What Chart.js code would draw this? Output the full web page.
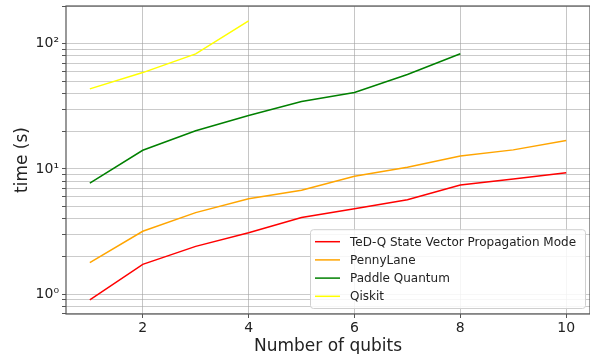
<!DOCTYPE html>
<html>
<head>
<meta charset="utf-8">
<script src="https://cdn.jsdelivr.net/npm/chart.js@4/dist/chart.umd.min.js"></script>
<style>
html, body { margin: 0; padding: 0; background: #fff; }
#wrap { width: 590px; height: 354px; }
</style>
</head>
<body>
<div id="wrap"><canvas id="chart" width="590" height="354"></canvas></div>
<script>
const qubits = [1, 2, 3, 4, 5, 6, 7, 8, 9, 10]
const tedq = [0.9, 1.73, 2.41, 3.1, 4.1, 4.82, 5.68, 7.44, 8.33, 9.33]
const pennylane = [1.79, 3.18, 4.48, 5.79, 6.75, 8.76, 10.3, 12.7, 14.2, 16.9]
const paddle = [7.7, 14.1, 20.2, 26.7, 34.5, 40.8, 56.8, 83.2]
const qiskit = [43.6, 58.8, 83, 152]

const seriesNames = ["TeD-Q State Vector Propagation Mode", "PennyLane", "Paddle Quantum", "Qiskit"]
const seriesColors = ["#ff0000", "#ffa500", "#008000", "#ffff00"]

const xTicks = [2, 4, 6, 8, 10]
const yTicks = [0.7, 0.8, 0.9, 1, 2, 3, 4, 5, 6, 7, 8, 9, 10, 20, 30, 40, 50, 60, 70, 80, 90, 100, 200]
const yLabels = { 1: "10⁰", 10: "10¹", 100: "10²" }

const font = "'DejaVu Sans', sans-serif"

function toPoints(values) {
    return values.map((v, i) => ({ x: qubits[i], y: v }))
}

const datasets = [tedq, pennylane, paddle, qiskit].map((values, i) => ({
    label: seriesNames[i],
    data: toPoints(values),
    borderColor: seriesColors[i],
    backgroundColor: seriesColors[i],
    borderWidth: 1.5,
    pointRadius: 0,
    tension: 0
}))

// frame around the plot area, like matplotlib spines
const framePlugin = {
    id: "frame",
    afterDatasetsDraw(chart) {
        const { ctx, chartArea: a } = chart
        ctx.save()
        ctx.strokeStyle = "#555"
        ctx.lineWidth = 1.2
        ctx.strokeRect(a.left, a.top, a.right - a.left, a.bottom - a.top)
        ctx.restore()
    }
}

// legend box in the lower right of the plot
const legendPlugin = {
    id: "boxLegend",
    afterDraw(chart) {
        const { ctx, chartArea: a } = chart
        const w = 275, rowH = 18.2
        const h = seriesNames.length * rowH + 6
        const x0 = a.right - w - 5, y0 = a.bottom - h - 6
        ctx.save()
        ctx.fillStyle = "rgba(255,255,255,0.85)"
        ctx.strokeStyle = "#d0d0d0"
        ctx.lineWidth = 1
        ctx.beginPath()
        ctx.roundRect(x0 + 0.5, y0 + 0.5, w, h, 3)
        ctx.fill()
        ctx.stroke()
        ctx.font = "12px " + font
        ctx.textBaseline = "middle"
        seriesNames.forEach((name, i) => {
            const y = y0 + 12.5 + i * rowH
            ctx.strokeStyle = seriesColors[i]
            ctx.lineWidth = 1.5
            ctx.beginPath()
            ctx.moveTo(x0 + 5, y)
            ctx.lineTo(x0 + 30, y)
            ctx.stroke()
            ctx.fillStyle = "#222"
            ctx.fillText(name, x0 + 40, y + 1)
        })
        ctx.restore()
    }
}

new Chart(document.getElementById("chart").getContext("2d"), {
    type: "line",
    data: { datasets: datasets },
    options: {
        responsive: false,
        animation: false,
        devicePixelRatio: 1,
        layout: { padding: { top: 6, right: 0, left: 0, bottom: 0 } },
        plugins: { legend: { display: false }, tooltip: { enabled: false } },
        scales: {
            x: {
                type: "linear",
                min: 0.55,
                max: 10.45,
                afterBuildTicks: scale => { scale.ticks = xTicks.map(v => ({ value: v })) },
                afterFit: scale => { scale.height = 40 },
                grid: { color: "rgba(160,160,160,0.6)", lineWidth: 1, tickLength: 4, tickColor: "#555" },
                border: { display: false },
                ticks: { color: "#222", font: { family: font, size: 14 }, padding: 2, maxRotation: 0 },
                title: { display: true, text: "Number of qubits", color: "#222", font: { family: font, size: 17 }, padding: { top: 0, bottom: -3 } }
            },
            y: {
                type: "logarithmic",
                min: 0.695,
                max: 200,
                afterBuildTicks: scale => { scale.ticks = yTicks.map(v => ({ value: v })) },
                afterFit: scale => {
                    scale.width = 66
                    scale.paddingTop = 0
                    scale.paddingBottom = 0
                },
                grid: { color: "rgba(160,160,160,0.55)", lineWidth: 1, tickLength: 4, tickColor: "#555" },
                border: { display: false },
                ticks: {
                    autoSkip: false,
                    color: "#222",
                    font: { family: font, size: 14 },
                    padding: 3,
                    callback: v => yLabels[v] || ""
                },
                title: { display: true, text: "time (s)", color: "#222", font: { family: font, size: 17 }, padding: { top: 12, bottom: 4 } }
            }
        }
    },
    plugins: [framePlugin, legendPlugin]
})
</script>
</body>
</html>
